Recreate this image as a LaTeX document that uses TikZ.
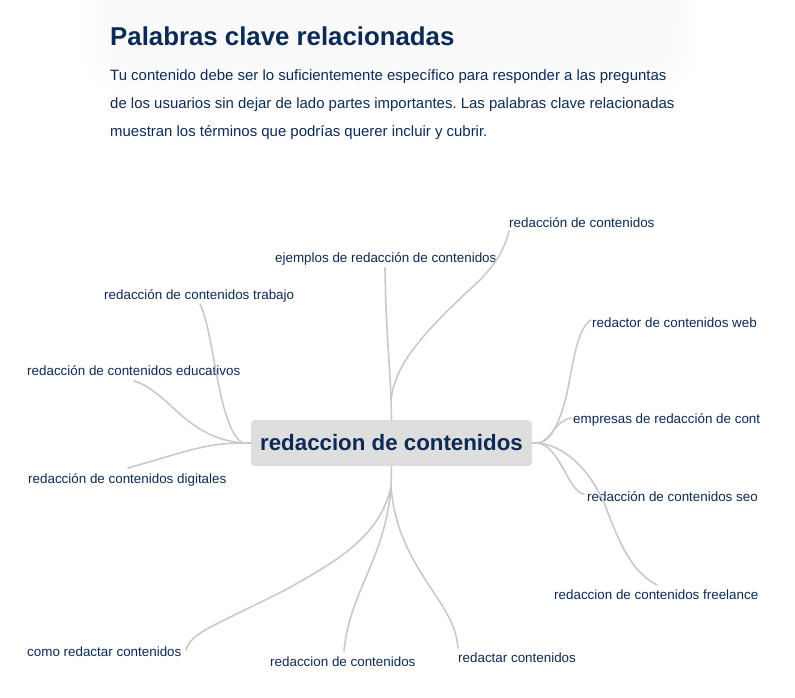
\documentclass[tikz,border=0pt]{standalone}
\usepackage{fontspec}
\setmainfont{Liberation Sans}
\definecolor{navy}{HTML}{0B2A55}
\definecolor{conn}{HTML}{C9C9C9}
\definecolor{boxg}{HTML}{DEDEDE}
\begin{document}
\frenchspacing
\begin{tikzpicture}[x=1pt,y=-1pt,
 lbl/.style={anchor=base west, inner sep=0pt, text=navy, font=\fontsize{13.4}{16}\selectfont},
 para/.style={anchor=base west, inner sep=0pt, text=navy, font=\fontsize{14.95}{18}\selectfont},
 link/.style={draw=conn, line width=1.6pt, line cap=round}]
\useasboundingbox (0,0) rectangle (795,698);
% faint card shadow at top (solid nested fills, outer lightest)
\foreach \i in {11,10,...,0}{
  \pgfmathsetmacro{\p}{0.18*(12-\i)}
  \fill[black!\p!white, rounded corners=45pt] (104-2*\i,-60) rectangle (676+2*\i,68+2.5*\i);
}
% title and paragraph
\node[anchor=base west, inner sep=0pt, text=navy, font=\fontsize{25.8}{30}\selectfont\bfseries] (title) at (110,46) {Palabras clave relacionadas};
\node[para] (p1) at (110,81) {Tu contenido debe ser lo suficientemente específico para responder a las preguntas};
\node[para] (p2) at (110,109) {de los usuarios sin dejar de lado partes importantes. Las palabras clave relacionadas};
\node[para] (p3) at (110,136) {muestran los términos que podrías querer incluir y cubrir.};

% central node
\node[fill=boxg, rounded corners=4pt, minimum width=281pt, minimum height=46pt, inner sep=0pt,
      text=navy, font=\fontsize{22.3}{26}\selectfont\bfseries] (c) at (391.5,443) {redaccion de contenidos};

% labels
\node[lbl] (t1) at (509,227) {redacción de contenidos};
\node[lbl] (t2) at (275,262) {ejemplos de redacción de contenidos};
\node[lbl] (l1) at (104,299) {redacción de contenidos trabajo};
\node[lbl] (l2) at (27,375) {redacción de contenidos educativos};
\node[lbl] (l3) at (28,483) {redacción de contenidos digitales};
\node[lbl] (r1) at (592,327) {redactor de contenidos web};
\node[lbl] (r2) at (573,423) {empresas de redacción de cont};
\node[lbl] (r3) at (587,501) {redacción de contenidos seo};
\node[lbl] (r4) at (554,599) {redaccion de contenidos freelance};
\node[lbl] (b1) at (27,656) {como redactar contenidos};
\node[lbl] (b2) at (270,666) {redaccion de contenidos};
\node[lbl] (b3) at (458,662) {redactar contenidos};

% hubs and free ends
\coordinate (hl) at (243,443);
\coordinate (hr) at (537,443);
\coordinate (ht) at (391,400);
\coordinate (hb) at (391,487);
\coordinate (et1) at (509,231);
\coordinate (et2) at (385,268);
\coordinate (el1) at (200,304);
\coordinate (el2) at (134,381);
\coordinate (el3) at (128,468);
\coordinate (er1) at (591,320);
\coordinate (er2) at (571,418);
\coordinate (er3) at (584,494);
\coordinate (er4) at (657,585);
\coordinate (eb1) at (186,650);
\coordinate (eb2) at (344,651);
\coordinate (eb3) at (458,648);

% connectors
\draw[link] (c.west) -- (hl);
\draw[link] (c.east) -- (hr);
\draw[link] (c.south) -- (hb);
\draw[link] (et2) .. controls (386,340) and (391,370) .. (c.north);
\draw[link] (et1) .. controls (504,250) and (497,262) .. (480,280) .. controls (420,335) and (395,365) .. (ht);
\draw[link] (el1) .. controls (215,335) and (218,430) .. (hl);
\draw[link] (el2) .. controls (170,392) and (185,438) .. (hl);
\draw[link] (el3) .. controls (185,452) and (205,443) .. (hl);
\draw[link] (er1) .. controls (574,330) and (572,380) .. (563,408) .. controls (556,430) and (548,443) .. (hr);
\draw[link] (er2) .. controls (555,420) and (550,443) .. (hr);
\draw[link] (hr) .. controls (560,445) and (568,492) .. (er3);
\draw[link] (hr) .. controls (565,445) and (590,470) .. (605,505) .. controls (620,545) and (632,572) .. (er4);
\draw[link] (hb) .. controls (380,535) and (340,560) .. (285,590) .. controls (210,628) and (192,632) .. (eb1);
\draw[link] (hb) .. controls (385,560) and (350,590) .. (eb2);
\draw[link] (hb) .. controls (398,570) and (455,600) .. (eb3);
\end{tikzpicture}
\end{document}
